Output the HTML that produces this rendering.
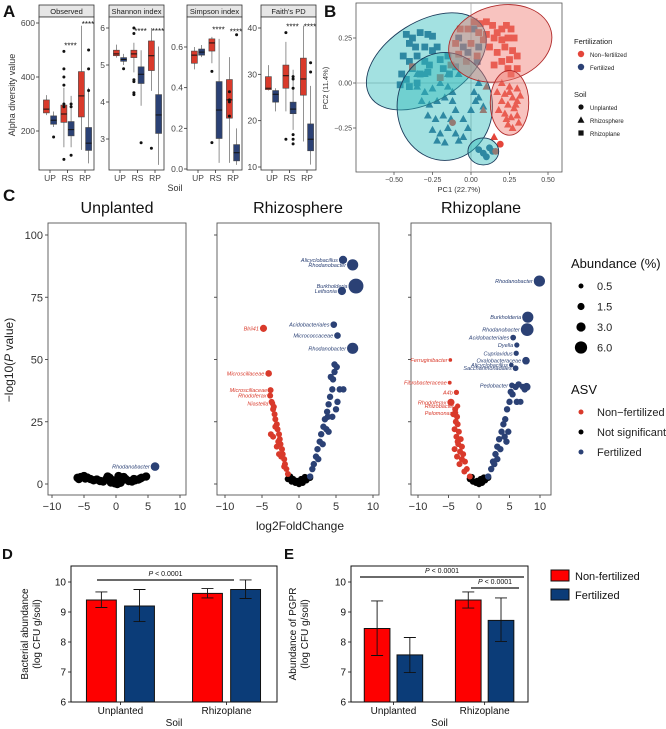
<!DOCTYPE html>
<html><head><meta charset="utf-8"><style>
body{margin:0;background:#fff;}
svg{display:block;font-family:"Liberation Sans",Arial,sans-serif;}
</style></head><body>
<svg id="fig" width="666" height="729" viewBox="0 0 666 729" xmlns="http://www.w3.org/2000/svg"></svg>
<script>
// ---------- Panel A data ----------
const boxPanels = ["Observed","Shannon index","Simpson index","Faith's PD"];
const boxTicks = [[200,400,600],[3,4,5,6],[0.0,0.2,0.4,0.6],[10,20,30,40]];
const boxTickLabels = [["200","400","600"],["3","4","5","6"],["0.0","0.2","0.4","0.6"],["10","20","30","40"]];
// [min,q1,med,q3,max] for UP-red, UP-blue, RS-red, RS-blue, RP-red, RP-blue
const obsStats = [[259,267,281,315,333],[215,225,240,256,272],[140,232,263,296,360],[140,182,205,235,330],[130,252,330,420,590],[80,128,155,213,360]];
const shaStats = [[5.2,5.25,5.3,5.4,5.55],[5.0,5.1,5.15,5.2,5.3],[4.8,5.2,5.3,5.4,5.6],[3.9,4.5,4.75,4.95,5.4],[4.3,4.85,5.25,5.65,6.0],[2.3,3.15,3.65,4.2,5.5]];
const simStats = [[0.49,0.52,0.56,0.58,0.6],[0.55,0.56,0.575,0.59,0.61],[0.52,0.58,0.62,0.64,0.65],[0.03,0.15,0.29,0.43,0.64],[0.03,0.25,0.34,0.44,0.55],[0.02,0.04,0.08,0.12,0.2]];
const faiStats = [[26.5,26.7,27,29.5,32],[22,24,25.7,26.5,27],[22,27,29.7,32,37],[18,21.5,22.5,24,31],[15.5,25.5,29,33.5,40.5],[10.5,13.5,16,19.3,27.5]];
const obsOut = [[],[178],[495,430,400,370,300,290,95],[110,290,300],[],[500,430,350]];
const shaOut = [[],[4.9],[6.0,5.85,4.6,4.55,4.25,4.2],[2.9],[2.75],[]];
const simOut = [[],[],[0.48,0.13],[],[0.38,0.34,0.33,0.26],[0.66]];
const faiOut = [[],[],[39,16],[29.5,29,27,17,15,16],[],[32.5,30.5]];
const boxStars = [[null,520,600],[null,5.95,5.95],[null,0.69,0.68],[null,40.5,40.5]];

// ---------- Panel B data ----------
const bXTicks = [-0.5,-0.25,0,0.25,0.5];
const bXTickLabels = ["−0.50","−0.25","0.00","0.25","0.50"];
const bYTicks = [-0.25,0,0.25];
const bYTickLabels = ["−0.25","0.00","0.25"];
const blueSquares = [[-0.42,0.27],[-0.38,0.25],[-0.33,0.28],[-0.28,0.27],[-0.25,0.26],[-0.4,0.22],[-0.36,0.2],[-0.3,0.2],[-0.25,0.18],[-0.22,0.2],[-0.44,0.15],[-0.4,0.12],[-0.35,0.15],[-0.3,0.12],[-0.27,0.1],[-0.45,0.05],[-0.42,0.02],[-0.38,0.08],[-0.33,0.05],[-0.28,0.06],[-0.46,-0.01],[-0.4,-0.02],[-0.35,0],[-0.2,0.13],[-0.15,0.15],[-0.08,0.25],[-0.05,0.2],[-0.02,0.17],[0.05,0.2],[0.04,0.12],[0.02,0.3],[-0.1,0.09],[-0.14,0.05],[-0.18,0.08]];
const blueTriangles = [[-0.35,-0.02],[-0.3,-0.05],[-0.25,-0.03],[-0.2,0],[-0.15,-0.02],[-0.32,-0.1],[-0.27,-0.12],[-0.22,-0.1],[-0.17,-0.08],[-0.12,-0.1],[-0.28,-0.18],[-0.23,-0.2],[-0.18,-0.18],[-0.13,-0.2],[-0.25,-0.26],[-0.2,-0.28],[-0.15,-0.25],[-0.1,-0.28],[-0.05,-0.3],[-0.22,-0.32],[-0.17,-0.33],[-0.08,-0.32],[-0.05,-0.2],[0,-0.15],[0.03,-0.1],[0.08,-0.13],[0.02,-0.05],[-0.1,-0.15],[-0.12,-0.05],[-0.15,0.05],[-0.08,0.05],[0.05,-0.08],[-0.02,-0.25],[0.05,0.0],[-0.3,0.05],[-0.35,0.05]];
const blueCircles = [[0.05,-0.37],[0.08,-0.39],[0.12,-0.36],[0.1,-0.41],[0.14,-0.38]];
const redSquares = [[0.02,0.34],[0.06,0.33],[0.1,0.34],[0.14,0.32],[0.17,0.28],[0.2,0.3],[0.23,0.32],[0.26,0.3],[0.28,0.25],[0.24,0.25],[0.2,0.24],[0.15,0.25],[0.1,0.27],[0.08,0.24],[0.12,0.2],[0.17,0.17],[0.22,0.2],[0.27,0.18],[0.3,0.15],[0.25,0.13],[0.2,0.12],[0.15,0.1],[0.26,0.05],[0.24,0.08],[0.3,0.08],[-0.02,0.3],[-0.07,0.3],[-0.1,0.22],[0,0.22],[0.04,0.15],[-0.08,0.16],[-0.03,0.12],[-0.13,0.1],[-0.2,0.03],[-0.38,0.09],[0.05,0.28]];
const redTriangles = [[0.2,0],[0.25,-0.02],[0.3,-0.03],[0.22,-0.06],[0.27,-0.08],[0.32,-0.07],[0.2,-0.1],[0.24,-0.12],[0.28,-0.14],[0.22,-0.17],[0.26,-0.19],[0.3,-0.18],[0.24,-0.23],[0.27,-0.25],[0.17,-0.05],[0.3,-0.1],[0.18,-0.15],[0.31,-0.22],[0.15,-0.3],[0.08,-0.15],[0.1,-0.02],[0.25,-0.05],[0.29,-0.12],[0.23,-0.2]];
const redCircles = [[0.19,-0.34],[0.16,-0.38],[-0.12,-0.22]];
const ellipsesB = [[-0.29,0.12,0.43,0.22,-32,"blue"],[-0.17,-0.13,0.31,0.3,0,"blue"],[0.19,0.22,0.34,0.21,-14,"red"],[0.25,-0.11,0.125,0.18,0,"red"],[0.08,-0.38,0.1,0.075,0,"blue"]];

// ---------- Panel C data ----------
const volcanoTitles = ["Unplanted","Rhizosphere","Rhizoplane"];
const volcXTicks = [-10,-5,0,5,10];
const volcYTicks = [0,25,50,75,100];
const unplantedNS = [[-6,2.5],[-5.5,2.8],[-5,3.2],[-4.5,2.6],[-4,2],[-3.5,1.5],[-3,1.8],[-2.5,1.2],[-2,1],[-1.5,2],[-1,2.5],[-0.5,1.5],[0,1],[0.5,2.2],[1,1.5],[1.5,2],[2,1.2],[2.5,1],[3,1.5],[3.5,1.8],[4,2.5],[4.7,3],[0.2,0],[-0.2,0.3],[0.7,0.5],[-0.8,0.6],[1.2,2.8],[-1.3,3],[0.4,3.2],[-5.8,2],[-4.8,2.2],[2.8,2],[3.8,2.2]];
const unplantedSig = [[6.1,7,2.5,"Rhodanobacter"]];
const rsRed = [[-1.5,4],[-1.7,6],[-1.9,8],[-2.0,10],[-2.2,12],[-2.3,14],[-2.5,16],[-2.6,18],[-2.7,20],[-2.9,22],[-3.0,24],[-3.2,26],[-3.3,28],[-3.5,30],[-3.7,33],[-3.4,31],[-3.2,23],[-2.8,17],[-2.4,11],[-2.0,7],[-3.8,20],[-3.5,19],[-3.0,15],[-2.7,12],[-3.9,35.5],[-3.85,37.7]];
const rsBlue = [[1.5,3],[1.8,6],[2.0,8],[2.3,11],[2.5,14],[2.8,17],[3.0,20],[3.3,23],[3.5,26],[3.8,29],[4.0,32],[4.2,35],[4.5,38],[4.6,42],[4.8,45],[4.8,48],[5.1,47],[5.5,38],[6.0,38],[5.0,30],[4.5,27],[3.7,22],[3.2,16],[2.6,10],[4.3,43],[3.9,27],[5.2,33],[4.0,21]];
const rsNS = [[-1.5,2],[-1,1],[-0.5,0.5],[0,0],[0.5,0.5],[1,1.5],[1.5,2.5],[-1.2,3],[0.3,2],[-0.3,1.2],[0.8,2.8],[-0.8,2]];
const rsLabeled = [[5.95,90,2.2,"Alicyclobacillus"],[7.25,88,4.8,"Rhodanobacter"],[7.7,79.5,9.5,"Burkholderia"],[5.8,77.5,2.2,"Leifsonia"],[4.7,64,1.2,"Acidobacteriales"],[5.2,59.6,1.2,"Micrococcaceae"],[7.25,54.5,4.8,"Rhodanobacter"],[-4.8,62.5,1.5,"Blrii41"],[-4.1,44.4,1.2,"Microscillaceae"],[-3.8,37.7,0.6,"Microscillaceae"],[-3.9,35.5,0.6,"Rhodoferax"],[-3.6,32.4,0.8,"Niastella"]];
const rpRed = [[-1.5,3],[-2,6],[-2.3,9],[-2.6,12],[-2.8,15],[-3,18],[-3.3,21],[-3.5,24],[-3.6,27],[-3.8,25],[-4,22],[-3.7,19],[-3.4,16],[-3.1,13],[-2.8,10],[-4.2,28],[-3.9,30],[-3.5,17],[-3.2,8],[-2.4,5],[-4,14],[-3.6,11]];
const rpBlue = [[1.5,3],[2,6],[2.3,9],[2.7,12],[3,15],[3.3,18],[3.7,21],[4,24],[4.3,26],[4.6,30],[5,33],[5.5,36],[6,39],[6.5,40],[7.2,39],[7.5,38],[6.2,33],[4.8,21],[4.5,17],[3.5,14],[2.5,8],[5.2,37],[4.2,19],[3.0,10]];
const rpNS = [[-1.5,2],[-1,1],[-0.5,0.5],[0,0],[0.5,0.5],[1,1.5],[1.5,2.5],[-1.2,2.8],[0.3,2],[-0.3,1.2],[0.8,2.6]];
const rpLabeled = [[9.9,81.5,4.8,"Rhodanobacter"],[8.0,67,4.8,"Burkholderia"],[7.9,62,6.5,"Rhodanobacter"],[5.6,58.8,0.8,"Acidobacteriales"],[6.2,55.8,0.6,"Dyella"],[6.1,52.5,0.6,"Cupriavidus"],[7.7,49.5,1.8,"Oxalobacteraceae"],[5.3,47.8,0.4,"Alicyclobacillus"],[6.0,46.5,0.8,"Saccharimonadales"],[5.4,39.6,0.8,"Pedobacter"],[7.8,39,2.0,""],[6.8,33,1.0,""],[-4.7,49.8,0.15,"Ferruginibacter"],[-4.8,40.7,0.2,"Fibrobacteraceae"],[-3.7,36.8,0.6,"A4b"],[-4.6,32.8,1.5,"Rhodoferax"],[-3.5,31.3,0.6,"Rhizobacter"],[-3.8,28.6,0.5,"Pelomonas"]];
const abundLegend = [0.5,1.5,3.0,6.0];
const abundLegendLabels = ["0.5","1.5","3.0","6.0"];

// ---------- Panels D/E data ----------
const barGroups = ["Unplanted","Rhizoplane"];
const barYTicks = [6,7,8,9,10];
const dNonFert = [9.4,9.62];
const dFert = [9.2,9.75];
const dNonFertErr = [[9.15,9.67],[9.47,9.78]];
const dFertErr = [[8.68,9.75],[9.45,10.07]];
const eNonFert = [8.45,9.4];
const eFert = [7.57,8.72];
const eNonFertErr = [[7.55,9.37],[9.13,9.67]];
const eFertErr = [[6.98,8.15],[8.02,9.47]];

// ---------- helpers ----------
const NS = "http://www.w3.org/2000/svg";
const svg = document.getElementById('fig');
function mk(tag, attrs, parent, name, inter) {
  const el = document.createElementNS(NS, tag);
  for (const k in attrs) el.setAttribute(k, attrs[k]);
  
  
  (parent || svg).appendChild(el);
  return el;
}
function txt(x, y, s, size, parent, name, extra) {
  const a = {x: x, y: y, 'font-size': size, fill: '#222'};
  for (const k in (extra || {})) a[k] = extra[k];
  const t = mk('text', a, parent, name, false);
  t.textContent = s;
  return t;
}
function lin(d0, d1, r0, r1) { return v => r0 + (v - d0) * (r1 - r0) / (d1 - d0); }
const RED = "#d93a2b", BLUE = "#2b4175";

// ---------- Panel A ----------
txt(3, 17, "A", 17, null, "panel-a-label", {'font-weight': 'bold', fill: '#111'});
const ax0 = [39, 109, 187, 261];
const statsAll = [obsStats, shaStats, simStats, faiStats];
const outAll = [obsOut, shaOut, simOut, faiOut];
// anchors per panel: [v0, y0, v1, y1]
const yAnchors = [[600,23,200,131],[6,28,3,139],[0.6,47,0.0,169],[40,28,10,167]];
boxPanels.forEach((pn, i) => {
  const g = mk('g', {}, null, 'boxplot-panel-' + i, false);
  const x0 = ax0[i], w = 55, top = 17, bot = 170;
  const a = yAnchors[i];
  const ys = lin(a[0], a[2], a[1], a[3]);
  mk('rect', {x: x0, y: 5, width: w, height: 12, fill: '#e6e6e6', stroke: '#333', 'stroke-width': 0.8}, g, 'strip-header', false);
  txt(x0 + w / 2, 14, pn, 7.5, g, 'strip-title', {'text-anchor': 'middle'});
  mk('rect', {x: x0, y: top, width: w, height: bot - top, fill: '#fff', stroke: '#333', 'stroke-width': 0.8}, g, 'panel-frame', false);
  boxTicks[i].forEach((t, k) => {
    const y = ys(t);
    mk('line', {x1: x0 - 3, x2: x0, y1: y, y2: y, stroke: '#333', 'stroke-width': 0.8}, g, 'y-tick', false);
    txt(x0 - 4, y + 3, boxTickLabels[i][k], 8.5, g, 'y-tick-label', {'text-anchor': 'end', fill: '#444'});
  });
  const groups = ["UP", "RS", "RP"];
  groups.forEach((gl, k) => {
    const cx = x0 + 11 + k * 17.5;
    mk('line', {x1: cx, x2: cx, y1: bot, y2: bot + 3, stroke: '#333', 'stroke-width': 0.8}, g, 'x-tick', false);
    txt(cx, bot + 11, gl, 8.5, g, 'x-tick-label', {'text-anchor': 'middle', fill: '#444'});
    [0, 1].forEach(s => {
      const bi = k * 2 + s;
      const st = statsAll[i][bi];
      const bx = cx + (s === 0 ? -3.6 : 3.6);
      const col = s === 0 ? RED : BLUE;
      mk('line', {x1: bx, x2: bx, y1: ys(st[0]), y2: ys(st[4]), stroke: '#777', 'stroke-width': 0.8}, g, 'whisker', false);
      mk('rect', {x: bx - 3, y: ys(st[3]), width: 6, height: Math.max(1, ys(st[1]) - ys(st[3])), fill: col, stroke: '#444', 'stroke-width': 0.6}, g, 'box', false);
      mk('line', {x1: bx - 3, x2: bx + 3, y1: ys(st[2]), y2: ys(st[2]), stroke: '#111', 'stroke-width': 1}, g, 'median', false);
      outAll[i][bi].forEach(o => {
        mk('circle', {cx: bx, cy: ys(o), r: 1.5, fill: '#111'}, g, 'outlier', false);
      });
    });
    const sv = boxStars[i][k];
    if (sv !== null) txt(cx + 3, ys(sv) + 4, "****", 8, g, 'significance-stars', {'text-anchor': 'middle', fill: '#111'});
  });
});
txt(175, 191, "Soil", 9, null, "x-axis-title-a", {'text-anchor': 'middle', fill: '#333'});
txt(0, 0, "Alpha diversity value", 9, null, "y-axis-title-a", {'text-anchor': 'middle', fill: '#333', transform: 'translate(15,95) rotate(-90)'});

// ---------- Panel B ----------
txt(324, 17, "B", 17, null, "panel-b-label", {'font-weight': 'bold', fill: '#111'});
const gB = mk('g', {}, null, 'pcoa-plot', false);
const bx0 = 356, bx1 = 562, by0 = 3, by1 = 172;
const pX = lin(0, 0.25, 471, 509.5), pY = lin(0, 0.25, 83, 38);
mk('rect', {x: bx0, y: by0, width: bx1 - bx0, height: by1 - by0, fill: '#fff', stroke: '#555', 'stroke-width': 0.8}, gB, 'plot-frame', false);
mk('line', {x1: pX(0), x2: pX(0), y1: by0, y2: by1, stroke: '#aaa', 'stroke-width': 0.8}, gB, 'zero-line-x', false);
mk('line', {x1: bx0, x2: bx1, y1: pY(0), y2: pY(0), stroke: '#aaa', 'stroke-width': 0.8}, gB, 'zero-line-y', false);
const ptsB = [[blueSquares, 'sq', '#2a5d8c'], [blueTriangles, 'tri', '#2a5d8c'], [blueCircles, 'ci', '#2a5d8c'], [redSquares, 'sq', '#e4453a'], [redTriangles, 'tri', '#e4453a'], [redCircles, 'ci', '#e4453a']];
function marker(g, kind, x, y, col, sz) {
  if (kind === 'sq') return mk('rect', {x: x - sz, y: y - sz, width: 2 * sz, height: 2 * sz, fill: col}, g, 'square-point', false);
  if (kind === 'tri') return mk('polygon', {points: `${x},${y - sz * 1.2} ${x - sz * 1.15},${y + sz * 0.9} ${x + sz * 1.15},${y + sz * 0.9}`, fill: col}, g, 'triangle-point', false);
  return mk('circle', {cx: x, cy: y, r: sz, fill: col}, g, 'circle-point', false);
}
ptsB.forEach(p => p[0].forEach(d => marker(gB, p[1], pX(d[0]), pY(d[1]), p[2], 3.4)));
ellipsesB.forEach(e => {
  const cx = pX(e[0]), cy = pY(e[1]);
  const rx = pX(e[2]) - pX(0), ry = pY(0) - pY(e[3]);
  const isB = e[5] === 'blue';
  mk('ellipse', {cx: cx, cy: cy, rx: rx, ry: ry, transform: `rotate(${e[4]} ${cx} ${cy})`, fill: isB ? '#33bcbc' : '#f07a72', 'fill-opacity': 0.45, stroke: isB ? '#1c3c5c' : '#b02a2a', 'stroke-width': 0.9}, gB, 'confidence-ellipse', false);
});
bXTicks.forEach((t, k) => {
  mk('line', {x1: pX(t), x2: pX(t), y1: by1, y2: by1 + 3, stroke: '#555', 'stroke-width': 0.8}, gB, 'x-tick', false);
  txt(pX(t), by1 + 10, bXTickLabels[k], 7, gB, 'x-tick-label', {'text-anchor': 'middle', fill: '#444'});
});
bYTicks.forEach((t, k) => {
  mk('line', {x1: bx0 - 3, x2: bx0, y1: pY(t), y2: pY(t), stroke: '#555', 'stroke-width': 0.8}, gB, 'y-tick', false);
  txt(bx0 - 4, pY(t) + 2.5, bYTickLabels[k], 7, gB, 'y-tick-label', {'text-anchor': 'end', fill: '#444'});
});
txt(459, 192, "PC1 (22.7%)", 7.5, gB, "x-axis-title-b", {'text-anchor': 'middle', fill: '#333'});
txt(0, 0, "PC2 (11.4%)", 7.5, gB, "y-axis-title-b", {'text-anchor': 'middle', fill: '#333', transform: 'translate(328,88) rotate(-90)'});
const gBL = mk('g', {}, null, 'pcoa-legend', false);
txt(574, 44, "Fertilization", 7.5, gBL, "legend-title", {fill: '#222'});
mk('circle', {cx: 581, cy: 54, r: 3.2, fill: '#e4453a'}, gBL, 'legend-swatch', false);
txt(590, 57, "Non−fertilized", 6, gBL, "legend-entry");
mk('circle', {cx: 581, cy: 67, r: 3.2, fill: '#2b4175'}, gBL, 'legend-swatch', false);
txt(590, 70, "Fertilized", 6, gBL, "legend-entry");
txt(574, 97, "Soil", 7.5, gBL, "legend-title");
marker(gBL, 'ci', 581, 107, '#111', 2.6);
txt(590, 110, "Unplanted", 6, gBL, "legend-entry");
marker(gBL, 'tri', 581, 120, '#111', 3);
txt(590, 123, "Rhizosphere", 6, gBL, "legend-entry");
marker(gBL, 'sq', 581, 133, '#111', 2.6);
txt(590, 136, "Rhizoplane", 6, gBL, "legend-entry");

// ---------- Panel C ----------
txt(3, 201, "C", 17, null, "panel-c-label", {'font-weight': 'bold', fill: '#111'});
const vPanels = [
  {x0: 48, x1: 186, xm10: 52, xp10: 180, ns: unplantedNS, red: [], blue: [], lab: unplantedSig, nsR: 4.2},
  {x0: 217, x1: 379, xm10: 225, xp10: 373, ns: rsNS, red: rsRed, blue: rsBlue, lab: rsLabeled, nsR: 3.2},
  {x0: 411, x1: 551, xm10: 418, xp10: 540, ns: rpNS, red: rpRed, blue: rpBlue, lab: rpLabeled, nsR: 3.2}
];
const vy = lin(0, 100, 484, 235);
const rad = a => 2.1 * Math.sqrt(a) + 1;
vPanels.forEach((p, i) => {
  const g = mk('g', {}, null, 'volcano-' + volcanoTitles[i].toLowerCase(), false);
  const vx = lin(-10, 10, p.xm10, p.xp10);
  txt((p.x0 + p.x1) / 2, 213, volcanoTitles[i], 16, g, 'volcano-title', {'text-anchor': 'middle', fill: '#111'});
  mk('rect', {x: p.x0, y: 223, width: p.x1 - p.x0, height: 495 - 223, fill: '#fff', stroke: '#555', 'stroke-width': 0.9}, g, 'plot-frame', false);
  volcYTicks.forEach(t => {
    mk('line', {x1: p.x0 - 3, x2: p.x0, y1: vy(t), y2: vy(t), stroke: '#444', 'stroke-width': 0.9}, g, 'y-tick', false);
    if (i === 0) txt(p.x0 - 5, vy(t) + 4, String(t), 11, g, 'y-tick-label', {'text-anchor': 'end', fill: '#333'});
  });
  volcXTicks.forEach(t => {
    mk('line', {x1: vx(t), x2: vx(t), y1: 495, y2: 498, stroke: '#444', 'stroke-width': 0.9}, g, 'x-tick', false);
    txt(vx(t), 510, t < 0 ? "−" + (-t) : String(t), 11, g, 'x-tick-label', {'text-anchor': 'middle', fill: '#333'});
  });
  p.ns.forEach(d => mk('circle', {cx: vx(d[0]), cy: vy(d[1]), r: p.nsR, fill: '#000'}, g, 'point-not-significant', false));
  p.red.forEach(d => mk('circle', {cx: vx(d[0]), cy: vy(d[1]), r: 3, fill: RED}, g, 'point-non-fertilized', false));
  p.blue.forEach(d => mk('circle', {cx: vx(d[0]), cy: vy(d[1]), r: 3.2, fill: BLUE}, g, 'point-fertilized', false));
  p.lab.forEach(d => {
    const col = d[0] < 0 ? RED : BLUE;
    const cx = vx(d[0]), cy = vy(d[1]), r = rad(d[2]);
    mk('circle', {cx: cx, cy: cy, r: r, fill: col}, g, 'labeled-point', false);
    if (d[3]) txt(cx - r - 1, cy + 2, d[3], 5.5, g, 'point-label', {'text-anchor': 'end', fill: col, 'font-style': 'italic'});
  });
});
txt(300, 530, "log2FoldChange", 12, null, "x-axis-title-c", {'text-anchor': 'middle', fill: '#222'});
const yt = mk('text', {x: 0, y: 0, 'font-size': 12, fill: '#222', 'text-anchor': 'middle', transform: 'translate(13,360) rotate(-90)'}, null, 'y-axis-title-c', false);
yt.innerHTML = '−log10(<tspan font-style="italic">P</tspan> value)';
const gCL = mk('g', {}, null, 'volcano-legend', false);
txt(571, 268, "Abundance (%)", 13, gCL, "legend-title", {fill: '#111'});
abundLegend.forEach((a, k) => {
  const y = 286 + k * 20.5;
  mk('circle', {cx: 581, cy: y, r: rad(a), fill: '#000'}, gCL, 'legend-size-swatch', false);
  txt(597, y + 4, abundLegendLabels[k], 11, gCL, 'legend-entry');
});
txt(571, 394, "ASV", 13, gCL, "legend-title", {fill: '#111'});
[["Non−fertilized", RED], ["Not significant", '#000'], ["Fertilized", BLUE]].forEach((e, k) => {
  const y = 412 + k * 20;
  mk('circle', {cx: 581, cy: y, r: 2.5, fill: e[1]}, gCL, 'legend-swatch', false);
  txt(597, y + 4, e[0], 11, gCL, 'legend-entry');
});

// ---------- Panels D & E ----------
function barPanel(label, lx, x0, x1, nf, f, nfe, fe, ylab1, ylab2, ylx, sigs) {
  const g = mk('g', {}, null, 'bar-panel-' + label.toLowerCase(), false);
  txt(lx, 559, label, 15, g, 'panel-label', {'font-weight': 'bold', fill: '#111'});
  const ys = lin(6, 10, 702, 582);
  mk('rect', {x: x0, y: 566, width: x1 - x0, height: 136, fill: 'none', stroke: '#111', 'stroke-width': 1}, g, 'plot-frame', false);
  barYTicks.forEach(t => {
    mk('line', {x1: x0 - 3, x2: x0, y1: ys(t), y2: ys(t), stroke: '#111', 'stroke-width': 0.8}, g, 'y-tick', false);
    txt(x0 - 5, ys(t) + 3.5, String(t), 10, g, 'y-tick-label', {'text-anchor': 'end', fill: '#111'});
  });
  const W = x1 - x0;
  barGroups.forEach((gr, k) => {
    const c = x0 + W * (k === 0 ? 0.24 : 0.755);
    const bw = W * 0.145;
    [[nf[k], nfe[k], '#fe0000', -1], [f[k], fe[k], '#0b3c78', 1]].forEach(b => {
      const bx = b[3] < 0 ? c - bw - W * 0.02 : c + W * 0.02;
      mk('rect', {x: bx, y: ys(b[0]), width: bw, height: ys(6) - ys(b[0]), fill: b[2], stroke: '#111', 'stroke-width': 1}, g, b[3] < 0 ? 'bar-non-fertilized' : 'bar-fertilized', false);
      const mx = bx + bw / 2;
      mk('path', {d: `M${mx},${ys(b[1][0])}V${ys(b[1][1])}M${mx - 6},${ys(b[1][0])}H${mx + 6}M${mx - 6},${ys(b[1][1])}H${mx + 6}`, stroke: '#111', 'stroke-width': 0.9, fill: 'none'}, g, 'error-bar', false);
    });
    txt(c, 714, gr, 10, g, 'x-tick-label', {'text-anchor': 'middle', fill: '#111'});
    mk('line', {x1: c, x2: c, y1: 702, y2: 705, stroke: '#111', 'stroke-width': 0.8}, g, 'x-tick', false);
  });
  txt((x0 + x1) / 2, 726, "Soil", 10, g, 'x-axis-title', {'text-anchor': 'middle', fill: '#111'});
  txt(0, 0, ylab1, 10, g, 'y-axis-title', {'text-anchor': 'middle', fill: '#111', transform: `translate(${ylx},634) rotate(-90)`});
  txt(0, 0, ylab2, 10, g, 'y-axis-title', {'text-anchor': 'middle', fill: '#111', transform: `translate(${ylx + 12},634) rotate(-90)`});
  sigs.forEach(s => {
    mk('line', {x1: s[0], x2: s[1], y1: s[2], y2: s[2], stroke: '#111', 'stroke-width': 1.2}, g, 'significance-line', false);
    const t = mk('text', {x: (s[0] + s[1]) / 2 + s[3], y: s[2] - 4, 'font-size': 7, fill: '#111', 'text-anchor': 'middle'}, g, 'significance-label', false);
    t.innerHTML = '<tspan font-style="italic">P</tspan> &lt; 0.0001';
  });
}
barPanel("D", 2, 71, 277, dNonFert, dFert, dNonFertErr, dFertErr, "Bacterial abundance", "(log CFU g/soil)", 28, [[97, 234, 580, 0]]);
barPanel("E", 284, 351, 528, eNonFert, eFert, eNonFertErr, eFertErr, "Abundance of PGPR", "(log CFU g/soil)", 296, [[360, 524, 577, 0], [471, 519, 588, 0]]);
const gEL = mk('g', {}, null, 'bar-legend', false);
mk('rect', {x: 551, y: 570, width: 18, height: 11, fill: '#fe0000', stroke: '#111', 'stroke-width': 1}, gEL, 'legend-swatch', false);
txt(575, 580, "Non-fertilized", 11, gEL, "legend-entry", {fill: '#111'});
mk('rect', {x: 551, y: 589, width: 18, height: 11, fill: '#0b3c78', stroke: '#111', 'stroke-width': 1}, gEL, 'legend-swatch', false);
txt(575, 599, "Fertilized", 11, gEL, "legend-entry", {fill: '#111'});
</script>
</body></html>
